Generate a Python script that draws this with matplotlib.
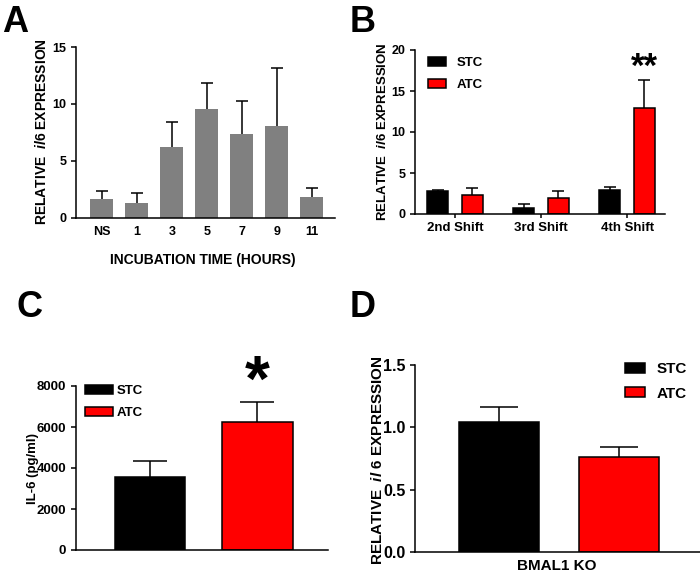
import matplotlib
matplotlib.use("Agg")
import matplotlib.pyplot as plt
import numpy as np
from matplotlib.patches import Patch

plt.rcParams['font.family'] = ['Liberation Sans', 'DejaVu Sans']
plt.rcParams['font.weight'] = 'bold'
plt.rcParams['mathtext.fontset'] = 'custom'
plt.rcParams['mathtext.it'] = 'Liberation Sans:italic:bold'
plt.rcParams['mathtext.rm'] = 'Liberation Sans:bold'
plt.rcParams['mathtext.bf'] = 'Liberation Sans:bold'

# ---- data ----
a_cats = ["NS", "1", "3", "5", "7", "9", "11"]
a_mean = [1.7, 1.3, 6.2, 9.55, 7.4, 8.1, 1.85]
a_sem = [0.65, 0.9, 2.2, 2.25, 2.85, 5.1, 0.75]

b_cats = ["2nd Shift", "3rd Shift", "4th Shift"]
b_stc = [2.75, 0.7, 2.9]
b_stc_sem = [0.2, 0.5, 0.35]
b_atc = [2.3, 2.0, 12.95]
b_atc_sem = [0.85, 0.75, 3.35]

c_groups = ["STC", "ATC"]
c_mean = [3570, 6240]
c_sem = [760, 960]

d_groups = ["STC", "ATC"]
d_mean = [1.04, 0.76]
d_sem = [0.125, 0.08]

W, H = 700, 572
fig = plt.figure(figsize=(W / 100, H / 100), dpi=100)


def px_axes(l, r, t, b):
    return fig.add_axes([l / W, 1 - b / H, (r - l) / W, (b - t) / H])


def style(ax, lw=1.1):
    for s in ['top', 'right']:
        ax.spines[s].set_visible(False)
    for s in ['left', 'bottom']:
        ax.spines[s].set_linewidth(lw)
    ax.tick_params(axis='y', direction='out', length=3.5, width=lw)


def ftext(x, y, s, **kw):
    fig.text(x / W, 1 - y / H, s, **kw)


def up_err(ax, x, y, e, cap):
    x = np.asarray(x, float)
    top = np.asarray(y, float) + np.asarray(e, float)
    ax.vlines(x, y, top, color='black', linewidth=1.1, zorder=1)
    ax.plot(x, top, ls='none', marker='_', markersize=2 * cap, markeredgewidth=1.1,
            color='black', zorder=1)


RED = '#ff0000'

# ---- Panel A ----
axA = px_axes(76, 335, 47, 218)
style(axA)
xa = np.arange(len(a_cats))
axA.bar(xa, a_mean, width=0.66, color='#808080', zorder=2)
up_err(axA, xa, a_mean, a_sem, 4)
axA.set_xlim(-0.74, 6.66)
axA.set_ylim(0, 15)
axA.set_yticks([0, 5, 10, 15])
axA.set_xticks(xa)
axA.set_xticklabels(a_cats)
axA.tick_params(axis='x', length=0, pad=6, labelsize=9)
axA.tick_params(axis='y', labelsize=9)
ftext(42, 132, 'RELATIVE  $\\mathit{il6}$ EXPRESSION', rotation=90, ha='center', va='center', fontsize=10)
ftext(203, 260, 'INCUBATION TIME (HOURS)', ha='center', va='center', fontsize=10)

# ---- Panel B ----
axB = px_axes(415, 665, 50, 214)
style(axB)
xb = np.arange(len(b_cats))
off = 0.2
bw = 0.245
axB.bar(xb - off, b_stc, width=bw, color='black', edgecolor='black', linewidth=1.1, label='STC', zorder=2)
axB.bar(xb + off, b_atc, width=bw, color=RED, edgecolor='black', linewidth=1.1, label='ATC', zorder=2)
up_err(axB, xb - off, b_stc, b_stc_sem, 4)
up_err(axB, xb + off, b_atc, b_atc_sem, 4)
axB.set_xlim(-0.465, 2.44)
axB.set_ylim(0, 20)
axB.set_yticks([0, 5, 10, 15, 20])
axB.set_xticks(xb)
axB.set_xticklabels(b_cats)
axB.tick_params(axis='x', direction='out', length=3, width=1.1, labelsize=9.5, pad=3)
axB.tick_params(axis='y', labelsize=9)
axB.text(2 + off, 15.9, '**', ha='center', va='bottom', fontsize=25)
axB.legend(loc='upper left', bbox_to_anchor=(428 / W, 1 - 57 / H), bbox_transform=fig.transFigure,
           frameon=False, fontsize=9.5, handlelength=1.4, handleheight=0.7, handletextpad=0.75,
           labelspacing=0.75, borderpad=0, borderaxespad=0)
ftext(383, 132, 'RELATIVE  $\\mathit{il6}$ EXPRESSION', rotation=90, ha='center', va='center', fontsize=9.5)

# ---- Panel C ----
axC = px_axes(76, 328, 386, 550)
style(axC)
xc = np.arange(2)
axC.bar(xc, c_mean, width=0.66, color=['black', RED], edgecolor='black', linewidth=1.1, zorder=2)
up_err(axC, xc, c_mean, c_sem, 12)
axC.set_xlim(-0.69, 1.66)
axC.set_ylim(0, 8000)
axC.set_yticks([0, 2000, 4000, 6000, 8000])
axC.set_xticks([])
axC.tick_params(axis='y', labelsize=9.5)
axC.text(1, 6650, '*', ha='center', va='bottom', fontsize=46)
hC = [Patch(facecolor='black', edgecolor='black', linewidth=1.1, label='STC'),
      Patch(facecolor=RED, edgecolor='black', linewidth=1.1, label='ATC')]
axC.legend(handles=hC, loc='upper left', bbox_to_anchor=(85 / W, 1 - 385 / H), bbox_transform=fig.transFigure,
           frameon=False, fontsize=9.5, handlelength=2.1, handleheight=0.65, handletextpad=0.3,
           labelspacing=0.75, borderpad=0, borderaxespad=0)
ftext(33, 468, 'IL-6 (pg/ml)', rotation=90, ha='center', va='center', fontsize=9.5)

# ---- Panel D ----
axD = px_axes(415, 700, 365, 552)
style(axD)
xd = np.arange(2)
axD.bar(xd, d_mean, width=0.66, color=['black', RED], edgecolor='black', linewidth=1.1, zorder=2)
up_err(axD, xd, d_mean, d_sem, 14)
axD.set_xlim(-0.70, 1.675)
axD.set_ylim(0, 1.5)
axD.set_yticks([0.0, 0.5, 1.0, 1.5])
axD.set_yticklabels(['0.0', '0.5', '1.0', '1.5'])
axD.set_xticks([])
axD.tick_params(axis='y', labelsize=11.5)
hD = [Patch(facecolor='black', edgecolor='black', linewidth=1.1, label='STC'),
      Patch(facecolor=RED, edgecolor='black', linewidth=1.1, label='ATC')]
axD.legend(handles=hD, loc='upper left', bbox_to_anchor=(625 / W, 1 - 362 / H), bbox_transform=fig.transFigure,
           frameon=False, fontsize=11, handlelength=1.3, handleheight=0.65, handletextpad=0.8,
           labelspacing=0.7, borderpad=0, borderaxespad=0)
ftext(377, 460, 'RELATIVE  $\\mathit{il\\ 6}$ EXPRESSION', rotation=90, ha='center', va='center', fontsize=11)
ftext(557, 566, 'BMAL1 KO', ha='center', va='center', fontsize=11)

# ---- panel letters ----
for lx, ly, s in [(2, 32, 'A'), (350, 32, 'B'), (17, 317, 'C'), (350, 317, 'D')]:
    ftext(lx, ly, s, ha='left', va='baseline', fontsize=26)

fig.savefig('out.png', dpi=100)
